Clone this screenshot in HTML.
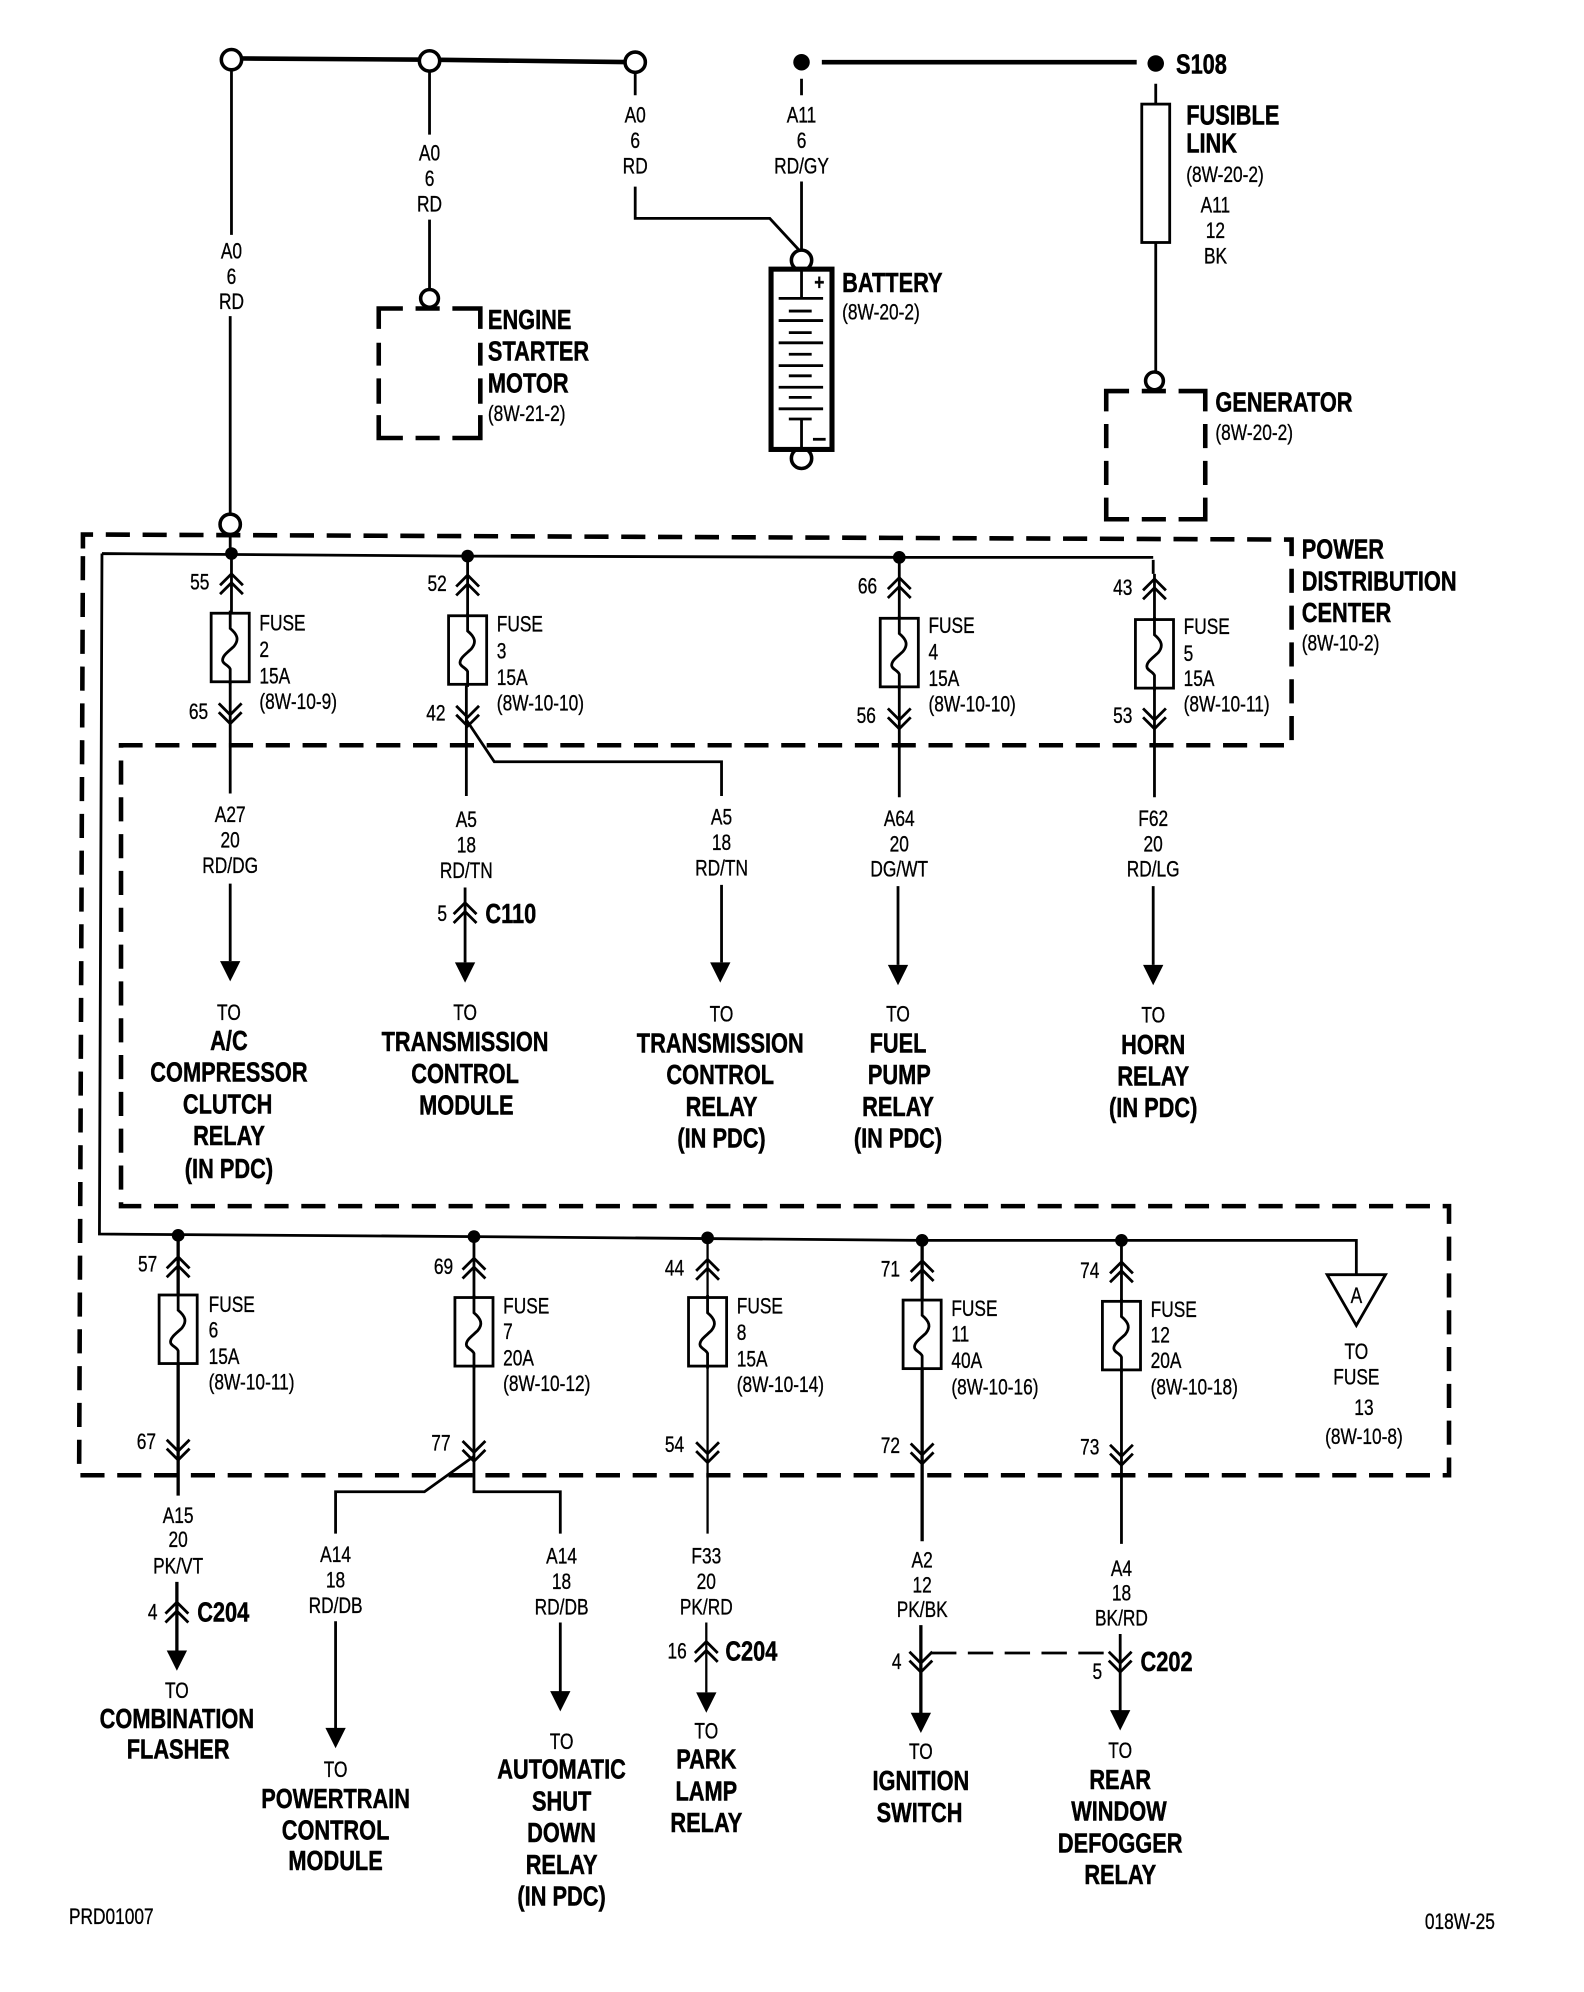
<!DOCTYPE html>
<html lang="en">
<head>
<meta charset="utf-8">
<title>Power distribution wiring diagram</title>
<style>
html,body{margin:0;padding:0;background:#fff}
svg{display:block}
text{font-family:"Liberation Sans",sans-serif;fill:#000;transform-box:fill-box}
.r{font-size:17.5px;stroke:#000;stroke-width:.25}
.b{font-size:22px;font-weight:bold;stroke:#000;stroke-width:.4}
.r.c,.r.l{transform:translateY(6.5px) scaleX(.78)}
.b.c,.b.l{transform:translateY(8px) scaleX(.78)}
.c{text-anchor:middle;transform-origin:center}
.l{text-anchor:start;transform-origin:left center}
.w{fill:none;stroke:#000;stroke-width:2.2}
.t{fill:none;stroke:#000;stroke-width:3.6}
.d{fill:none;stroke:#000;stroke-width:3.6;stroke-dasharray:19 10}
.o{fill:#fff;stroke:#000;stroke-width:2.8}
.k{fill:#000}
</style>
</head>
<body>
<svg xmlns="http://www.w3.org/2000/svg" width="1584" height="1992" viewBox="0 0 1247 1569">
<defs>
<g id="fuse">
<rect class="w" x="-15" y="0" width="30" height="54"/>
<path class="w" d="M0,-2V12C6,17 7,21 3,26C-1,30-6,33-6,37C-6,40-1,41 0,44V56"/>
</g>
<path id="cu" class="w" d="M-9,9L0,0L9,9M-9,16L0,7L9,16"/>
<path id="cd" class="w" d="M-9,-9L0,0L9,-9M-9,-16L0,-7L9,-16"/>
<path id="ar" class="k" d="M-8,0H8L0,16Z"/>
</defs>

<!-- top bus -->
<path class="t" d="M182,46L338,47L500,49"/>
<path class="t" d="M647,49H895"/>
<circle class="o" cx="182" cy="47" r="8"/>
<circle class="o" cx="338" cy="48" r="8"/>
<circle class="o" cx="500" cy="49" r="8"/>
<circle class="k" cx="631" cy="49" r="6.5"/>
<circle class="k" cx="910" cy="50" r="6.5"/>
<text class="b l" x="926" y="50">S108</text>

<!-- A0 main wire -->
<path class="w" d="M182,55V185M181,249V405M181,421V436"/>
<text class="r c" x="182" y="197">A0</text><text class="r c" x="182" y="217">6</text><text class="r c" x="182" y="237">RD</text>
<circle class="o" cx="181" cy="413" r="8"/>

<!-- engine starter -->
<path class="w" d="M338,55V106M338,173V228"/>
<text class="r c" x="338" y="120">A0</text><text class="r c" x="338" y="140">6</text><text class="r c" x="338" y="160">RD</text>
<circle class="o" cx="338" cy="235" r="7"/>
<path class="t" d="M317,243H298V259M298,270V288M298,298V318M298,327V345H317M327,345H346M356,345H378V327M378,318V298M378,288V270M378,259V243H356M327,243H346"/>
<text class="b l" x="384" y="251">ENGINE</text><text class="b l" x="384" y="276">STARTER</text><text class="b l" x="384" y="301">MOTOR</text>
<text class="r l" x="384" y="325">(8W-21-2)</text>

<!-- battery -->
<path class="w" d="M500,57V75M500,147V172H606L630,198M631,62V75M631,143V198"/>
<text class="r c" x="500" y="90">A0</text><text class="r c" x="500" y="110">6</text><text class="r c" x="500" y="130">RD</text>
<text class="r c" x="631" y="90">A11</text><text class="r c" x="631" y="110">6</text><text class="r c" x="631" y="130">RD/GY</text>
<circle class="o" cx="631" cy="205" r="8"/>
<circle class="o" cx="631" cy="361" r="8"/>
<rect x="607" y="212" width="48" height="142" fill="#fff" stroke="#000" stroke-width="4"/>
<path class="w" d="M631,212V235M613,235H648M613,252.500H648M613,270H648M613,288H648M613,305H648M613,322H648M621,245H639M621,262H639M621,279H639M621,296H639M621,313H639M621,330H639M631,330V354"/>
<text class="r c" x="645" y="222" style="font-weight:bold">+</text>
<path class="w" d="M640,346H650"/>
<text class="b l" x="663" y="222">BATTERY</text>
<text class="r l" x="663" y="245">(8W-20-2)</text>

<!-- fusible link / generator -->
<path class="w" d="M910,66V82M910,191V293"/>
<rect class="w" x="899" y="82" width="22" height="109"/>
<text class="b l" x="934" y="90">FUSIBLE</text><text class="b l" x="934" y="112">LINK</text>
<text class="r l" x="934" y="137">(8W-20-2)</text>
<text class="r c" x="957" y="161">A11</text><text class="r c" x="957" y="181">12</text><text class="r c" x="957" y="201">BK</text>
<circle class="o" cx="909" cy="300" r="7"/>
<path class="t" d="M889,308H871V324M871,334V353M871,363V382M871,392V409H889M899,409H918M928,409H949V392M949,382V363M949,353V334M949,324V308H928M899,308H918"/>
<text class="b l" x="957" y="316">GENERATOR</text>
<text class="r l" x="957" y="340">(8W-20-2)</text>

<!-- PDC dashed outline -->
<path class="d" d="M65,432V421L1017,425V587H95V950H1141V1162H62L65,432"/>
<text class="b l" x="1025" y="432">POWER</text><text class="b l" x="1025" y="457">DISTRIBUTION</text><text class="b l" x="1025" y="482">CENTER</text>
<text class="r l" x="1025" y="506">(8W-10-2)</text>

<!-- PDC buses -->
<path class="w" d="M908,441V452M80,436L368,438L708,439H908M80,436L78,972L373,974L726,977H1068V1004" />
<path class="w" d="M1045,1004H1091L1068,1044Z"/>
<text class="r c" x="1068" y="1020">A</text>
<text class="r c" x="1068" y="1064">TO</text><text class="r c" x="1068" y="1084">FUSE</text><text class="r c" x="1074" y="1108">13</text><text class="r c" x="1074" y="1131">(8W-10-8)</text>

<!-- top column 1 -->
<circle class="k" cx="182" cy="436" r="5"/>
<path class="w" d="M182,436V483M181,538V625M181,696V757"/>
<use href="#cu" x="182" y="452"/><use href="#cd" x="181" y="570"/>
<use href="#fuse" x="181" y="483"/>
<use href="#ar" x="181" y="757"/>
<text class="r c" x="157" y="458">55</text><text class="r c" x="156" y="560">65</text>
<text class="r l" x="204" y="490">FUSE</text><text class="r l" x="204" y="511">2</text><text class="r l" x="204" y="532">15A</text><text class="r l" x="204" y="552">(8W-10-9)</text>
<text class="r c" x="181" y="641">A27</text><text class="r c" x="181" y="661">20</text><text class="r c" x="181" y="681">RD/DG</text>
<text class="r c" x="180" y="797">TO</text>
<text class="b c" x="180" y="819">A/C</text><text class="b c" x="180" y="844">COMPRESSOR</text><text class="b c" x="179" y="869">CLUTCH</text><text class="b c" x="180" y="894">RELAY</text><text class="b c" x="180" y="920">(IN PDC)</text>

<!-- top column 2 -->
<circle class="k" cx="368" cy="438" r="5"/>
<path class="w" d="M368,438V485M367,540V627M366,699V758"/>
<path class="w" d="M367,567L389,600H568V627M568,697V758"/>
<use href="#cu" x="368" y="453"/><use href="#cd" x="368" y="572"/><use href="#cu" x="366" y="711"/>
<use href="#fuse" x="368" y="485"/>
<use href="#ar" x="366" y="758"/><use href="#ar" x="567" y="758"/>
<text class="r c" x="344" y="459">52</text><text class="r c" x="343" y="561">42</text>
<text class="r l" x="391" y="491">FUSE</text><text class="r l" x="391" y="512">3</text><text class="r l" x="391" y="533">15A</text><text class="r l" x="391" y="553">(8W-10-10)</text>
<text class="r c" x="367" y="645">A5</text><text class="r c" x="367" y="665">18</text><text class="r c" x="367" y="685">RD/TN</text>
<text class="r c" x="348" y="719">5</text><text class="b l" x="382" y="719">C110</text>
<text class="r c" x="366" y="797">TO</text>
<text class="b c" x="366" y="820">TRANSMISSION</text><text class="b c" x="366" y="845">CONTROL</text><text class="b c" x="367" y="870">MODULE</text>
<text class="r c" x="568" y="643">A5</text><text class="r c" x="568" y="663">18</text><text class="r c" x="568" y="683">RD/TN</text>
<text class="r c" x="568" y="798">TO</text>
<text class="b c" x="567" y="821">TRANSMISSION</text><text class="b c" x="567" y="846">CONTROL</text><text class="b c" x="568" y="871">RELAY</text><text class="b c" x="568" y="896">(IN PDC)</text>

<!-- top column 3 -->
<circle class="k" cx="708" cy="439" r="5"/>
<path class="w" d="M708,439V487M708,541V628M707,698V760"/>
<use href="#cu" x="708" y="455"/><use href="#cd" x="708" y="574"/>
<use href="#fuse" x="708" y="487"/>
<use href="#ar" x="707" y="760"/>
<text class="r c" x="683" y="461">66</text><text class="r c" x="682" y="563">56</text>
<text class="r l" x="731" y="492">FUSE</text><text class="r l" x="731" y="513">4</text><text class="r l" x="731" y="534">15A</text><text class="r l" x="731" y="554">(8W-10-10)</text>
<text class="r c" x="708" y="644">A64</text><text class="r c" x="708" y="664">20</text><text class="r c" x="708" y="684">DG/WT</text>
<text class="r c" x="707" y="798">TO</text>
<text class="b c" x="707" y="821">FUEL</text><text class="b c" x="708" y="846">PUMP</text><text class="b c" x="707" y="871">RELAY</text><text class="b c" x="707" y="896">(IN PDC)</text>

<!-- top column 4 -->
<path class="w" d="M909,452V488M909,541V628M908,698V760"/>
<use href="#cu" x="909" y="456"/><use href="#cd" x="909" y="574"/>
<use href="#fuse" x="909" y="488"/>
<use href="#ar" x="908" y="760"/>
<text class="r c" x="884" y="462">43</text><text class="r c" x="884" y="563">53</text>
<text class="r l" x="932" y="493">FUSE</text><text class="r l" x="932" y="514">5</text><text class="r l" x="932" y="534">15A</text><text class="r l" x="932" y="554">(8W-10-11)</text>
<text class="r c" x="908" y="644">F62</text><text class="r c" x="908" y="664">20</text><text class="r c" x="908" y="684">RD/LG</text>
<text class="r c" x="908" y="799">TO</text>
<text class="b c" x="908" y="822">HORN</text><text class="b c" x="908" y="847">RELAY</text><text class="b c" x="908" y="872">(IN PDC)</text>

<!-- bottom column 1 -->
<circle class="k" cx="140" cy="973" r="5"/>
<path class="w" d="M140,973V1020M140,1074V1178M139,1246V1302" style="stroke-width:2.6"/>
<use href="#cu" x="140" y="990"/><use href="#cd" x="140" y="1150"/><use href="#cu" x="139" y="1262"/>
<use href="#fuse" x="140" y="1020"/>
<use href="#ar" x="139" y="1300"/>
<text class="r c" x="116" y="995">57</text><text class="r c" x="115" y="1135">67</text>
<text class="r l" x="164" y="1027">FUSE</text><text class="r l" x="164" y="1047">6</text><text class="r l" x="164" y="1068">15A</text><text class="r l" x="164" y="1088">(8W-10-11)</text>
<text class="r c" x="140" y="1193">A15</text><text class="r c" x="140" y="1212">20</text><text class="r c" x="140" y="1233">PK/VT</text>
<text class="r c" x="120" y="1269">4</text><text class="b l" x="155" y="1269">C204</text>
<text class="r c" x="139" y="1331">TO</text>
<text class="b c" x="139" y="1353">COMBINATION</text><text class="b c" x="140" y="1377">FLASHER</text>

<!-- bottom column 2 -->
<circle class="k" cx="373" cy="974" r="5"/>
<path class="w" d="M373,974V1022M373,1075V1175H441V1208M373,1147L334,1175H264V1208M264,1277V1362M441,1278V1333"/>
<use href="#cu" x="373" y="991"/><use href="#cd" x="373" y="1151"/>
<use href="#fuse" x="373" y="1022"/>
<use href="#ar" x="264" y="1361"/><use href="#ar" x="441" y="1332"/>
<text class="r c" x="349" y="997">69</text><text class="r c" x="347" y="1136">77</text>
<text class="r l" x="396" y="1028">FUSE</text><text class="r l" x="396" y="1048">7</text><text class="r l" x="396" y="1069">20A</text><text class="r l" x="396" y="1089">(8W-10-12)</text>
<text class="r c" x="264" y="1224">A14</text><text class="r c" x="264" y="1244">18</text><text class="r c" x="264" y="1264">RD/DB</text>
<text class="r c" x="264" y="1393">TO</text>
<text class="b c" x="264" y="1416">POWERTRAIN</text><text class="b c" x="264" y="1441">CONTROL</text><text class="b c" x="264" y="1465">MODULE</text>
<text class="r c" x="442" y="1225">A14</text><text class="r c" x="442" y="1245">18</text><text class="r c" x="442" y="1265">RD/DB</text>
<text class="r c" x="442" y="1371">TO</text>
<text class="b c" x="442" y="1393">AUTOMATIC</text><text class="b c" x="442" y="1418">SHUT</text><text class="b c" x="442" y="1443">DOWN</text><text class="b c" x="442" y="1468">RELAY</text><text class="b c" x="442" y="1493">(IN PDC)</text>

<!-- bottom column 3 -->
<circle class="k" cx="557" cy="975" r="5"/>
<path class="w" d="M557,975V1022M557,1076V1208M556,1278V1333" style="stroke-width:1.8"/>
<use href="#cu" x="557" y="992"/><use href="#cd" x="557" y="1152"/><use href="#cu" x="556" y="1293"/>
<use href="#fuse" x="557" y="1022"/>
<use href="#ar" x="556" y="1333"/>
<text class="r c" x="531" y="998">44</text><text class="r c" x="531" y="1137">54</text>
<text class="r l" x="580" y="1028">FUSE</text><text class="r l" x="580" y="1049">8</text><text class="r l" x="580" y="1070">15A</text><text class="r l" x="580" y="1090">(8W-10-14)</text>
<text class="r c" x="556" y="1225">F33</text><text class="r c" x="556" y="1245">20</text><text class="r c" x="556" y="1265">PK/RD</text>
<text class="r c" x="533" y="1300">16</text><text class="b l" x="571" y="1300">C204</text>
<text class="r c" x="556" y="1363">TO</text>
<text class="b c" x="556" y="1385">PARK</text><text class="b c" x="556" y="1410">LAMP</text><text class="b c" x="556" y="1435">RELAY</text>

<!-- bottom column 4 -->
<circle class="k" cx="726" cy="977" r="5"/>
<path class="w" d="M726,977V1024M726,1078V1214M725,1280V1350" style="stroke-width:2.6"/>
<use href="#cu" x="726" y="993"/><use href="#cd" x="726" y="1153"/><use href="#cd" x="725" y="1317"/>
<use href="#fuse" x="726" y="1024"/>
<use href="#ar" x="725" y="1349"/>
<text class="r c" x="701" y="999">71</text><text class="r c" x="701" y="1138">72</text>
<text class="r l" x="749" y="1030">FUSE</text><text class="r l" x="749" y="1050">11</text><text class="r l" x="749" y="1071">40A</text><text class="r l" x="749" y="1092">(8W-10-16)</text>
<text class="r c" x="726" y="1228">A2</text><text class="r c" x="726" y="1248">12</text><text class="r c" x="726" y="1267">PK/BK</text>
<text class="r c" x="706" y="1308">4</text>
<path class="w" d="M733,1302H875" style="stroke-dasharray:20 9"/>
<text class="r c" x="725" y="1379">TO</text>
<text class="b c" x="725" y="1402">IGNITION</text><text class="b c" x="724" y="1427">SWITCH</text>

<!-- bottom column 5 -->
<circle class="k" cx="883" cy="977" r="5"/>
<path class="w" d="M883,977V1024M883,1080V1216M882,1287V1348"/>
<use href="#cu" x="883" y="994"/><use href="#cd" x="883" y="1154"/><use href="#cd" x="882" y="1317"/>
<use href="#fuse" x="883" y="1025"/>
<use href="#ar" x="882" y="1347"/>
<text class="r c" x="858" y="1000">74</text><text class="r c" x="858" y="1139">73</text>
<text class="r l" x="906" y="1031">FUSE</text><text class="r l" x="906" y="1051">12</text><text class="r l" x="906" y="1071">20A</text><text class="r l" x="906" y="1092">(8W-10-18)</text>
<text class="r c" x="883" y="1235">A4</text><text class="r c" x="883" y="1254">18</text><text class="r c" x="883" y="1274">BK/RD</text>
<text class="r c" x="864" y="1316">5</text><text class="b l" x="898" y="1308">C202</text>
<text class="r c" x="882" y="1378">TO</text>
<text class="b c" x="882" y="1401">REAR</text><text class="b c" x="881" y="1426">WINDOW</text><text class="b c" x="882" y="1451">DEFOGGER</text><text class="b c" x="882" y="1476">RELAY</text>

<!-- footer -->
<text class="r l" x="54" y="1509">PRD01007</text>
<text class="r l" x="1122" y="1513">018W-25</text>
</svg>
</body>
</html>
